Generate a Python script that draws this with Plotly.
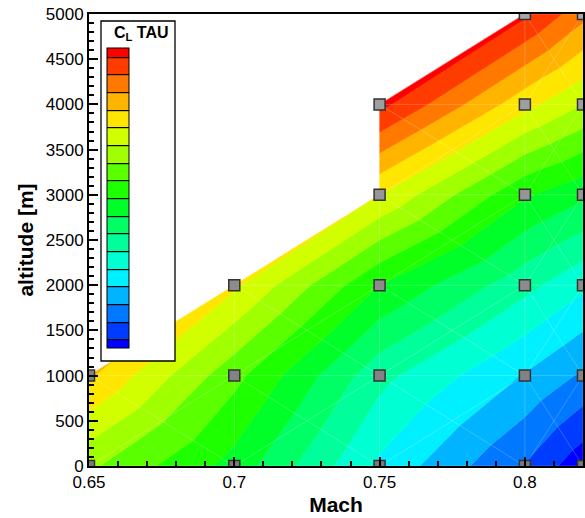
import plotly.graph_objects as go

# ---------------- data ----------------
mach = [0.65, 0.70, 0.75, 0.80, 0.82]
altitude = [0, 1000, 2000, 3000, 4000, 5000]
# C_L (TAU) at each node: one row per altitude, one column per Mach; None = no solution
cl_tau = [
    [0.555, 0.490, 0.395, 0.323, 0.283],   # 0 m
    [0.629, 0.533, 0.433, 0.373, 0.346],   # 1000 m
    [None,  0.605, 0.500, 0.433, 0.405],   # 2000 m
    [None,  None,  0.600, 0.503, 0.480],   # 3000 m
    [None,  None,  0.708, 0.608, 0.575],   # 4000 m
    [None,  None,  None,  0.705, 0.658],   # 5000 m
]
levels = [0.300, 0.325, 0.350, 0.375, 0.400, 0.425, 0.450, 0.475, 0.500,
          0.525, 0.550, 0.575, 0.600, 0.625, 0.650, 0.675, 0.700]
band_colors = ["#0000ff", "#003cff", "#0078ff", "#00b4ff", "#00f0ff", "#00ffd2",
               "#00ff9b", "#00ff64", "#00ff28", "#1eff00", "#5aff00", "#a0ff00",
               "#d2ff00", "#ffe600", "#ffb400", "#ff7800", "#ff3c00", "#ff0000"]
x_tickvals = [0.65, 0.70, 0.75, 0.80]
y_tickvals = [0, 500, 1000, 1500, 2000, 2500, 3000, 3500, 4000, 4500, 5000]

FONT = "Liberation Sans, Arial, Helvetica, sans-serif"

# ---------------- triangulation of the computed nodes ----------------
def node(i, j):
    v = cl_tau[j][i]
    return None if v is None else (mach[i], altitude[j], v)

triangles = []
for j in range(len(altitude) - 1):
    for i in range(len(mach) - 1):
        corners = [node(i, j), node(i + 1, j), node(i + 1, j + 1), node(i, j + 1)]
        present = [c for c in corners if c is not None]
        if len(present) == 4:
            cx = sum(c[0] for c in corners) / 4
            cy = sum(c[1] for c in corners) / 4
            cv = sum(c[2] for c in corners) / 4
            ctr = (cx, cy, cv)
            for k in range(4):
                triangles.append([corners[k], corners[(k + 1) % 4], ctr])
        elif len(present) == 3:
            triangles.append(present)


def clip(poly, level, keep_above):
    out = []
    n = len(poly)
    for k in range(n):
        a = poly[k]
        b = poly[(k + 1) % n]
        ina = a[2] >= level if keep_above else a[2] <= level
        inb = b[2] >= level if keep_above else b[2] <= level
        if ina:
            out.append(a)
        if ina != inb:
            t = (level - a[2]) / (b[2] - a[2])
            out.append((a[0] + t * (b[0] - a[0]), a[1] + t * (b[1] - a[1]), level))
    return out


fig = go.Figure()

nb = len(band_colors)
for b in range(nb):
    xs, ys = [], []
    for tri in triangles:
        poly = tri
        if b > 0:
            poly = clip(poly, levels[b - 1], True)
        if poly and b < nb - 1:
            poly = clip(poly, levels[b], False)
        if len(poly) >= 3:
            xs += [p[0] for p in poly] + [poly[0][0], None]
            ys += [p[1] for p in poly] + [poly[0][1], None]
    if xs:
        fig.add_trace(go.Scatter(x=xs, y=ys, mode="lines", fill="toself",
                                 fillcolor=band_colors[b],
                                 line=dict(color=band_colors[b], width=0.6),
                                 hoverinfo="skip", showlegend=False))

# mesh edges (faint white lines)
edges = set()
for tri in triangles:
    for k in range(3):
        a = (tri[k][0], tri[k][1])
        c = (tri[(k + 1) % 3][0], tri[(k + 1) % 3][1])
        edges.add(tuple(sorted([a, c])))
mx, my = [], []
for a, c in edges:
    mx += [a[0], c[0], None]
    my += [a[1], c[1], None]
fig.add_trace(go.Scatter(x=mx, y=my, mode="lines",
                         line=dict(color="rgba(255,255,255,0.3)", width=0.7),
                         hoverinfo="skip", showlegend=False))

# computed nodes
px_, py_ = [], []
for j in range(len(altitude)):
    for i in range(len(mach)):
        if cl_tau[j][i] is not None:
            px_.append(mach[i])
            py_.append(altitude[j])
fig.add_trace(go.Scatter(x=px_, y=py_, mode="markers",
                         marker=dict(symbol="square", size=11, color=py_,
                                     colorscale=[[0, "#7a7a7a"], [1, "#a8a8a8"]],
                                     cmin=0, cmax=5000,
                                     line=dict(color="#333333", width=1.5)),
                         hoverinfo="skip", showlegend=False))

# contour trace that supplies the colour legend
step = levels[1] - levels[0]
ncol = len(band_colors)
fig.add_trace(go.Contour(
    x=mach, y=altitude, z=cl_tau, opacity=0, hoverinfo="skip",
    contours=dict(start=levels[0], end=levels[-1], size=step,
                  coloring="fill", showlines=True),
    line=dict(color="black", width=1.2),
    colorscale=[[k / (ncol - 1), c] for k, c in enumerate(band_colors)],
    zauto=False, zmin=levels[0] - step / 2, zmax=levels[-1] + step / 2,
    showscale=True,
    colorbar=dict(x=(107 - 89) / 494, xanchor="left",
                  y=(466 - 48) / 452, yanchor="top",
                  len=300, lenmode="pixels", thickness=22, thicknessmode="pixels",
                  outlinewidth=1, outlinecolor="black",
                  showticklabels=False, ticks="",
                  xpad=0, ypad=0, bgcolor="rgba(0,0,0,0)", borderwidth=0),
))

fig.update_layout(
    width=585, height=518,
    margin=dict(l=89, r=2, t=14, b=52, autoexpand=False),
    paper_bgcolor="white", plot_bgcolor="white",
    font=dict(family=FONT, size=17, color="black"),
    showlegend=False,
    xaxis=dict(range=[0.65, 0.82], tickvals=x_tickvals, ticktext=["0.65", "0.7", "0.75", "0.8"],
               ticks="inside", ticklen=9, tickwidth=2, tickcolor="black",
               minor=dict(dtick=0.01, tick0=0.65, ticks="inside", ticklen=5, tickwidth=1.5, tickcolor="black"),
               showline=True, linewidth=2, linecolor="black", mirror=True,
               showgrid=False, zeroline=False,
               title=dict(text="<b>Mach</b>", font=dict(size=21), standoff=6)),
    yaxis=dict(range=[0, 5000], tickvals=y_tickvals,
               ticks="inside", ticklen=9, tickwidth=2, tickcolor="black",
               minor=dict(dtick=100, ticks="inside", ticklen=5, tickwidth=1.5, tickcolor="black"),
               showline=True, linewidth=2, linecolor="black", mirror=True,
               showgrid=False, zeroline=False,
               title=dict(text="<b>altitude [m]</b>", font=dict(size=21), standoff=6)),
    shapes=[dict(type="rect", xref="paper", yref="paper",
                 x0=(101 - 89) / 494, x1=(175 - 89) / 494,
                 y0=(466 - 361) / 452, y1=(466 - 21) / 452,
                 fillcolor="white", line=dict(color="black", width=1.3), layer="above")],
    annotations=[dict(text="<b>C<sub>L</sub> TAU</b>", xref="paper", yref="paper",
                      x=(171 - 89) / 494, y=(466 - 34) / 452, xanchor="right", yanchor="middle",
                      showarrow=False, font=dict(size=16))],
)

fig.write_html("out.html")
